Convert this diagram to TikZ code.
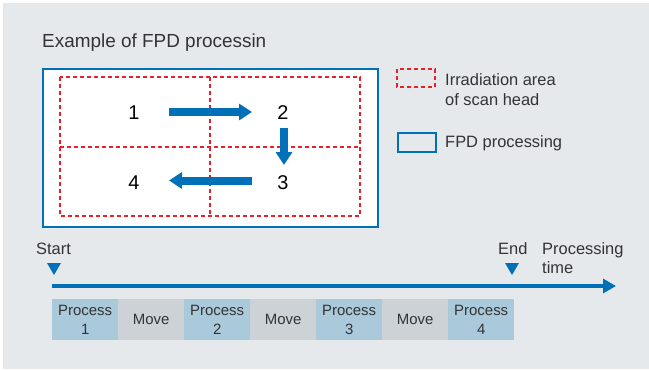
\documentclass[tikz,border=0pt]{standalone}
\usepackage{fontspec}
\setmainfont{Liberation Sans}
\usetikzlibrary{arrows.meta}
\definecolor{bg}{HTML}{E6E9EC}
\definecolor{fpdblue}{HTML}{0070B8}
\definecolor{irred}{HTML}{E8202A}
\definecolor{procblue}{HTML}{AACADC}
\definecolor{movegray}{HTML}{CDD2D6}
\definecolor{txt}{HTML}{333333}
\begin{document}
\begin{tikzpicture}[x=1bp,y=-1bp,
  lbl/.style={anchor=base west, inner sep=0, text=txt, font=\fontsize{16.5}{19}\selectfont},
  numlbl/.style={anchor=base, inner sep=0, text=black, font=\fontsize{20}{24}\selectfont},
  irr/.style={draw=irred, line width=1.1bp, dash pattern=on 4bp off 3bp},
  bigarrow/.style={fpdblue, line width=8bp, -{Triangle[length=13bp,width=16bp]}},
  procbox/.style={fill=procblue, minimum width=66bp, minimum height=41bp, inner sep=0, anchor=north west, align=center, text=txt, font=\fontsize{15}{19}\selectfont},
  movebox/.style={procbox, fill=movegray},
  marker/.style={fill=fpdblue}]
\useasboundingbox (0,0) rectangle (649,369);
\fill[bg] (3,3) rectangle (649,369);
% title
\node[lbl, font=\fontsize{19}{23}\selectfont] (title) at (42,47) {Example of FPD processin};
% FPD box
\node (fpd) [fill=white, draw=fpdblue, line width=2bp, anchor=north west, minimum width=335bp, minimum height=158bp] at (42,68) {};
% irradiation areas
\draw[irr] (60,77) rectangle (360,216);
\draw[irr] (210,77) -- (210,216);
\draw[irr] (60,147) -- (360,147);
% numbers
\node[numlbl] (n1) at (134,119) {1};
\node[numlbl] (n2) at (283,119) {2};
\node[numlbl] (n3) at (283,189) {3};
\node[numlbl] (n4) at (134,189) {4};
% movement arrows
\coordinate (a1s) at (169,112);
\coordinate (a1e) at (252,112);
\coordinate (a2s) at (284,128);
\coordinate (a2e) at (284,165);
\coordinate (a3s) at (252,180.5);
\coordinate (a3e) at (169,180.5);
\draw[bigarrow] (a1s) -- (a1e);
\draw[bigarrow] (a2s) -- (a2e);
\draw[bigarrow] (a3s) -- (a3e);
% legend
\draw[irr, line width=1.3bp] (397,69) rectangle (435,87);
\node[lbl] (legirrt1) at (445,85) {Irradiation area};
\node[lbl] (legirrt2) at (445,105) {of scan head};
\node (legfpd) [draw=fpdblue, line width=1.5bp, anchor=north west, minimum width=38bp, minimum height=19bp, inner sep=0] at (397,132) {};
\node[lbl] (legfpdt) at (445,147) {FPD processing};
% timeline
\node[lbl] (start) at (36,254) {Start};
\node[lbl] (end) at (498,254) {End};
\node[lbl] (pt1) at (542,254) {Processing};
\node[lbl] (pt2) at (542,273) {time};
\fill[marker] (47,263) -- (61,263) -- (54,275) -- cycle;
\fill[marker] (505,263) -- (519,263) -- (512,275) -- cycle;
\coordinate (ts) at (52,286);
\coordinate (te) at (616,286);
\draw[fpdblue, line width=3.3bp, -{Triangle[length=13bp,width=14bp]}] (ts) -- (te);
% process boxes
\node[procbox] (p1) at (52,299) {Process\\1};
\node[movebox] (m1) at (118,299) {Move};
\node[procbox] (p2) at (184,299) {Process\\2};
\node[movebox] (m2) at (250,299) {Move};
\node[procbox] (p3) at (316,299) {Process\\3};
\node[movebox] (m3) at (382,299) {Move};
\node[procbox] (p4) at (448,299) {Process\\4};
\end{tikzpicture}
\end{document}
